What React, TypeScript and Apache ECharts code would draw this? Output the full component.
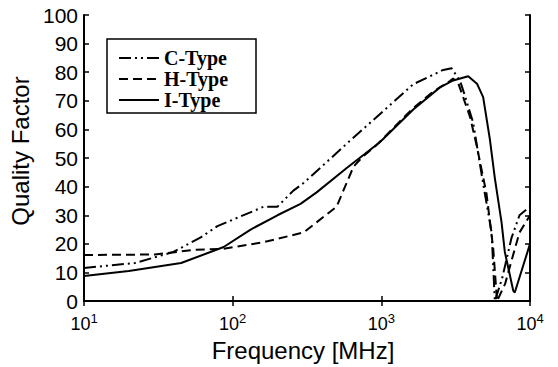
import React, { useEffect, useRef } from "react";
import * as echarts from "echarts";

const seriesNames = ["C-Type", "H-Type", "I-Type"];

const cTypeData: [number, number][] = [
  [10, 11.6], [22, 13.3], [40, 17.2], [61, 22.3], [79, 26.2], [162, 33], [200, 33],
  [256, 38.6], [302, 41.4], [585, 55], [1640, 75.8], [2610, 80.8], [2970, 81.4],
  [3380, 77], [3560, 73.5], [4150, 62.3], [4840, 41], [5520, 24], [5800, 0],
  [6500, 8], [7500, 22], [8500, 30], [10000, 33],
];

const hTypeData: [number, number][] = [
  [10, 16.1], [30, 16.3], [55, 17.9], [87, 18.3], [162, 20.6], [300, 24], [500, 33],
  [570, 40], [650, 47], [750, 50.5], [930, 54.6], [1640, 67.5], [2230, 73.2],
  [2890, 76.9], [3040, 77.8], [3300, 76], [3944, 64.5], [4376, 54.4], [5100, 37.5],
  [5660, 18.3], [6000, 0], [6800, 6], [7500, 14], [8500, 24], [10000, 30],
];

const iTypeData: [number, number][] = [
  [10, 8.8], [20, 10.5], [45, 13.3], [87, 18.9], [132, 25], [200, 30], [286, 34],
  [367, 38], [585, 46.5], [977, 55.5], [1640, 67], [2480, 74.7], [3000, 77],
  [3840, 78.6], [4400, 76], [4840, 71.3], [5370, 56.6], [5800, 43], [6440, 27.4],
  [6770, 17.2], [7710, 3.7], [7900, 3], [10000, 20],
];

const yTicks = { min: 0, max: 100, interval: 10 };
const xRange = { min: 10, max: 10000 };

export default function App() {
  const ref = useRef<HTMLDivElement>(null);
  useEffect(() => {
    if (!ref.current) return;
    const chart = echarts.init(ref.current, null, { renderer: "svg" });
    const sans = "Liberation Sans";
    const axisCommon = {
      axisLine: { show: true, lineStyle: { color: "#000", width: 2 } },
      axisTick: { show: true, inside: true, length: 5, lineStyle: { color: "#000", width: 1.5 } },
      splitLine: { show: false },
    };
    chart.setOption({
      animation: false,
      backgroundColor: "#fff",
      grid: { left: 84, right: 28, top: 15, bottom: 56, containLabel: false },
      legend: {
        show: true,
        data: seriesNames,
        left: 107,
        top: 39,
        orient: "vertical",
        backgroundColor: "#fff",
        borderColor: "#000",
        borderWidth: 1.5,
        borderRadius: 0,
        padding: [9, 12, 3, 11],
        itemWidth: 40,
        itemHeight: 14,
        itemGap: 1,
        itemStyle: { opacity: 0 },
        formatter: (name: string) => `{t|${name}}`,
        textStyle: {
          color: "#000",
          rich: {
            t: {
              fontFamily: "Liberation Serif",
              fontWeight: "bold",
              fontSize: 20,
              color: "#000",
              width: 80,
              lineHeight: 21,
            },
          },
        },
      },
      xAxis: [
        {
          type: "log",
          logBase: 10,
          min: xRange.min,
          max: xRange.max,
          name: "Frequency [MHz]",
          nameLocation: "middle",
          nameGap: 27,
          nameTextStyle: { fontFamily: sans, fontSize: 24, color: "#000", padding: [0, 8, 0, 0] },
          ...axisCommon,
          axisLabel: {
            margin: 11,
            color: "#000",
            formatter: (v: number) => `{b|10}{s|${Math.round(Math.log10(v))}}`,
            rich: {
              b: { fontFamily: sans, fontSize: 18, color: "#000", verticalAlign: "bottom" },
              s: { fontFamily: sans, fontSize: 13, color: "#000", verticalAlign: "bottom", padding: [0, 0, 8, 0] },
            },
          },
        },
        {
          type: "log",
          logBase: 10,
          min: xRange.min,
          max: xRange.max,
          position: "top",
          ...axisCommon,
          axisLabel: { show: false },
        },
      ],
      yAxis: [
        {
          type: "value",
          min: yTicks.min,
          max: yTicks.max,
          interval: yTicks.interval,
          name: "Quality Factor",
          nameLocation: "middle",
          nameGap: 46,
          nameRotate: 90,
          nameTextStyle: { fontFamily: sans, fontSize: 24, color: "#000", padding: [0, 0, 0, 14] },
          ...axisCommon,
          axisLabel: { margin: 6, fontFamily: sans, fontSize: 21, color: "#000" },
        },
        {
          type: "value",
          min: yTicks.min,
          max: yTicks.max,
          interval: yTicks.interval,
          position: "right",
          ...axisCommon,
          axisLabel: { show: false },
        },
      ],
      series: [
        {
          name: "C-Type",
          type: "line",
          data: cTypeData,
          symbol: "none",
          showSymbol: false,
          lineStyle: { color: "#000", width: 2, type: [12, 4, 2, 4, 2, 4] },
          itemStyle: { color: "#000" },
        },
        {
          name: "H-Type",
          type: "line",
          data: hTypeData,
          symbol: "none",
          showSymbol: false,
          lineStyle: { color: "#000", width: 2, type: [9, 5] },
          itemStyle: { color: "#000" },
        },
        {
          name: "I-Type",
          type: "line",
          data: iTypeData,
          symbol: "none",
          showSymbol: false,
          lineStyle: { color: "#000", width: 2, type: "solid" },
          itemStyle: { color: "#000" },
        },
      ],
    });
    return () => chart.dispose();
  }, []);
  return (
    <div
      ref={ref}
      style={{ position: "fixed", left: 0, top: 0, width: 558, height: 367, background: "#fff" }}
    />
  );
}
